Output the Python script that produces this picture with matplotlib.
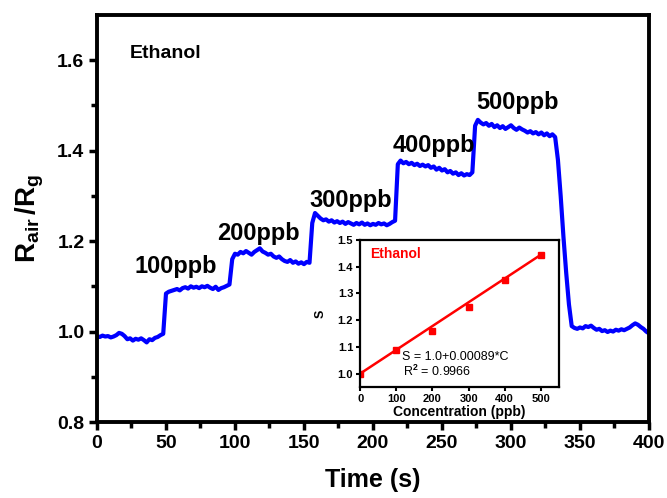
import numpy as np
import matplotlib.pyplot as plt

plt.rcParams['font.family'] = ['Liberation Sans', 'DejaVu Sans']
plt.rcParams['font.weight'] = 'bold'
plt.rcParams['mathtext.fontset'] = 'custom'
plt.rcParams['mathtext.rm'] = 'Liberation Sans:bold'
plt.rcParams['mathtext.it'] = 'Liberation Sans:bold'
plt.rcParams['mathtext.bf'] = 'Liberation Sans:bold'

# response trace, read every 2 s
t = np.arange(0, 401, 2)
resp = [
    0.990, 0.988, 0.991, 0.989, 0.990, 0.987, 0.989, 0.992, 0.997, 0.995,
    0.990, 0.983, 0.985, 0.980, 0.984, 0.982, 0.985, 0.981, 0.976, 0.983,
    0.981, 0.986, 0.988, 0.992, 0.995, 1.084, 1.088, 1.090, 1.092, 1.094,
    1.091, 1.096, 1.098, 1.095, 1.100, 1.097, 1.099, 1.096, 1.100, 1.098,
    1.101, 1.097, 1.094, 1.099, 1.092, 1.096, 1.098, 1.101, 1.104, 1.160,
    1.172, 1.170, 1.176, 1.173, 1.178, 1.174, 1.170, 1.176, 1.180, 1.184,
    1.177, 1.174, 1.170, 1.172, 1.166, 1.163, 1.166, 1.160, 1.156, 1.154,
    1.158, 1.152, 1.155, 1.150, 1.153, 1.149, 1.154, 1.152, 1.240, 1.262,
    1.256, 1.250, 1.246, 1.248, 1.243, 1.246, 1.241, 1.244, 1.240, 1.243,
    1.238, 1.242, 1.239, 1.236, 1.240, 1.237, 1.241, 1.236, 1.239, 1.235,
    1.238, 1.236, 1.240, 1.237, 1.239, 1.235, 1.238, 1.242, 1.245, 1.370,
    1.378, 1.372, 1.375, 1.370, 1.373, 1.368, 1.371, 1.366, 1.369, 1.365,
    1.368, 1.362, 1.365, 1.358, 1.362, 1.356, 1.359, 1.352, 1.355, 1.349,
    1.352, 1.346, 1.350, 1.345, 1.348, 1.346, 1.352, 1.455, 1.468, 1.462,
    1.458, 1.461, 1.455, 1.459, 1.452, 1.456, 1.450, 1.454, 1.448, 1.452,
    1.456, 1.450, 1.446, 1.451, 1.447, 1.444, 1.440, 1.443, 1.438, 1.441,
    1.436, 1.440, 1.434, 1.438, 1.432, 1.436, 1.430, 1.380, 1.300, 1.210,
    1.130, 1.060, 1.012, 1.008, 1.006, 1.009, 1.007, 1.012, 1.010, 1.013,
    1.008, 1.004, 1.006, 1.001, 1.003, 0.999, 1.002, 1.000, 1.004, 1.002,
    1.005, 1.003, 1.006, 1.009, 1.014, 1.018, 1.015, 1.010, 1.006, 1.000,
    0.996,
]

labels = ['100ppb', '200ppb', '300ppb', '400ppb', '500ppb']
label_x = [27, 87, 154, 214, 275]
label_y = [1.144, 1.216, 1.289, 1.411, 1.507]

# inset: sensitivity vs concentration
conc = [0, 100, 200, 300, 400, 500]
sens = [1.0, 1.088, 1.16, 1.25, 1.35, 1.445]
fit_a, fit_b = 1.0, 0.00089

fig = plt.figure(figsize=(6.67, 4.98), dpi=100)
ax = fig.add_axes([0.1454, 0.1526, 0.8276, 0.8174])
ax.plot(t, resp, color='#0000ff', lw=3.0)
ax.set_xlim(0, 400)
ax.set_ylim(0.8, 1.7)
ax.set_xticks(np.arange(0, 401, 50))
ax.set_xticks(np.arange(25, 400, 50), minor=True)
ax.set_yticks([0.8, 1.0, 1.2, 1.4, 1.6])
ax.set_yticks([0.9, 1.1, 1.3, 1.5], minor=True)
ax.set_yticklabels(['0.8', '1.0', '1.2', '1.4', '1.6'])
ax.tick_params(which='major', direction='out', length=6, width=2.5, labelsize=14, pad=3)
ax.tick_params(which='minor', direction='out', length=4, width=2.5)
for s in ax.spines.values():
    s.set_linewidth(2.8)
ax.set_xlabel('Time (s)', fontsize=18, fontweight='bold', labelpad=12)
ax.set_ylabel(r'$\mathrm{R_{air}\,/R_g}$', fontsize=20, labelpad=8)

ax.text(24, 1.615, 'Ethanol', fontsize=14, fontweight='bold', va='center', ha='left')
for lab, lx, ly in zip(labels, label_x, label_y):
    ax.text(lx, ly, lab, fontsize=17, fontweight='bold', va='center', ha='left')

ins = fig.add_axes([0.540, 0.223, 0.298, 0.295])
cc = np.array([0, 500])
ins.plot(cc, fit_a + fit_b * cc, color='#ff0000', lw=1.8)
ins.plot(conc, sens, 's', color='#ff0000', ms=4.5)
ins.set_xlim(0, 550)
ins.set_ylim(0.95, 1.5)
ins.set_xticks([0, 100, 200, 300, 400, 500])
ins.set_yticks([1.0, 1.1, 1.2, 1.3, 1.4, 1.5])
ins.set_yticklabels(['1.0', '1.1', '1.2', '1.3', '1.4', '1.5'])
ins.tick_params(direction='out', length=3, width=1.5, labelsize=8, pad=2)
for s in ins.spines.values():
    s.set_linewidth(1.6)
ins.set_xlabel('Concentration (ppb)', fontsize=10, fontweight='bold', labelpad=1)
ins.set_ylabel('S', fontsize=9, fontweight='bold', labelpad=8)
ins.text(28, 1.448, 'Ethanol', color='#ff0000', fontsize=10, fontweight='bold', va='center')
ins.text(116, 1.063, 'S = 1.0+0.00089*C', fontsize=9, fontweight='normal', va='center')
ins.text(118, 1.007, r'R$^2$ = 0.9966', fontsize=9, fontweight='normal', va='center')

fig.savefig('out.png', dpi=100)
